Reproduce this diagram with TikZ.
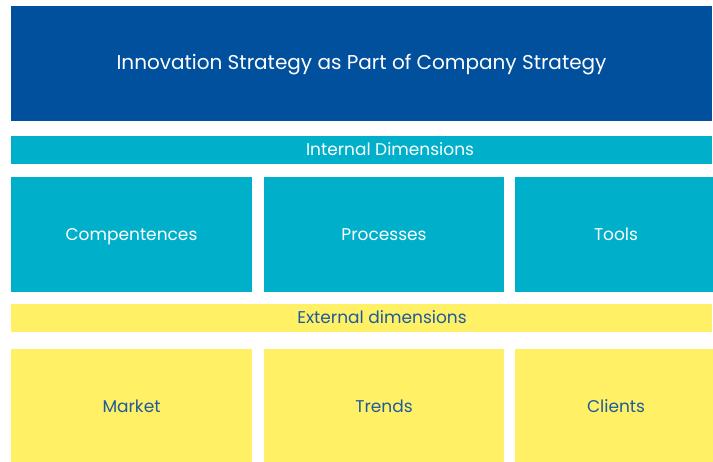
\documentclass[tikz,border=0pt]{standalone}
\usepackage{fontspec}
\setmainfont{Poppins}
\usetikzlibrary{positioning}
\definecolor{stratblue}{HTML}{00509E}
\definecolor{intcyan}{HTML}{00B0CB}
\definecolor{extyellow}{HTML}{FFF066}
\definecolor{exttext}{HTML}{1F5A9C}
\tikzstyle{block}=[inner sep=0pt, outer sep=0pt, align=center, text height=0.88em, text depth=0pt, font=\fontsize{12.75}{14}\selectfont]
\tikzstyle{strategy}=[block, fill=stratblue, text=white, minimum width=525.75pt, minimum height=86.25pt, font=\fontsize{15}{18}\selectfont]
\tikzstyle{bar}=[block, minimum width=525.75pt, minimum height=21pt]
\tikzstyle{barlabel}=[inner sep=0pt, text height=0.88em, text depth=0pt, font=\fontsize{12.75}{14}\selectfont]
\tikzstyle{internal}=[block, fill=intcyan, text=white]
\tikzstyle{external}=[block, fill=extyellow, text=exttext]

\begin{document}
\begin{tikzpicture}
  \useasboundingbox (0,0) rectangle (534.75pt,-345.75pt);
  \node[strategy, anchor=north west] (strategy) at (8.25pt,-4.5pt) {Innovation Strategy as Part of Company Strategy};
  % internal dimensions
  \node[bar,internal, label={[barlabel, text=white, xshift=21.4pt]center:Internal Dimensions}] (intbar) [below=11.25pt of strategy] {};
  \node[internal, minimum width=180.75pt, minimum height=86.25pt] (comp) [below=9.75pt of intbar.south west, anchor=north west] {Compentences};
  \node[internal, minimum width=180pt, minimum height=86.25pt] (proc) [right=9pt of comp] {Processes};
  \node[internal, minimum width=151.5pt, minimum height=86.25pt] (tools) [right=8.25pt of proc] {Tools};
  % external dimensions
  \node[bar,external, label={[barlabel, text=exttext, xshift=15.4pt]center:External dimensions}] (extbar) [below=9pt of comp.south west, anchor=north west] {};
  \node[external, minimum width=180.75pt, minimum height=86pt] (market) [below=12.75pt of extbar.south west, anchor=north west] {Market};
  \node[external, minimum width=180pt, minimum height=86pt] (trends) [right=9pt of market] {Trends};
  \node[external, minimum width=151.5pt, minimum height=86pt] (clients) [right=8.25pt of trends] {Clients};
\end{tikzpicture}
\end{document}
